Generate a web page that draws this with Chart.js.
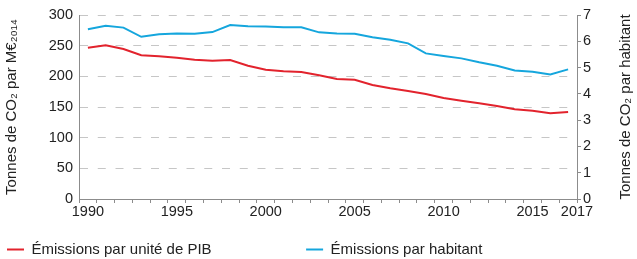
<!DOCTYPE html>
<html>
<head>
<meta charset="utf-8">
<script src="https://cdn.jsdelivr.net/npm/chart.js@4/dist/chart.umd.min.js"></script>
<style>
  html, body { margin: 0; padding: 0; background: #ffffff; }
  #wrap { width: 637px; height: 259px; }
</style>
</head>
<body>
<div id="wrap"><canvas id="c" width="637" height="259"></canvas></div>
<script>
// ---- data ----
const years = [1990, 1991, 1992, 1993, 1994, 1995, 1996, 1997, 1998, 1999,
               2000, 2001, 2002, 2003, 2004, 2005, 2006, 2007, 2008, 2009,
               2010, 2011, 2012, 2013, 2014, 2015, 2016, 2017];
const emissionsPerGDP = [246.7, 250.6, 244.6, 234.3, 232.7, 230.4, 227.1, 225.5, 226.6, 217.4,
                         210.9, 208.2, 207.1, 201.6, 195.7, 194.5, 185.9, 180.4, 176.1, 171.2,
                         164.7, 160.3, 156.0, 151.6, 146.2, 144.0, 139.7, 141.8];
const emissionsPerCapita = [6.46, 6.59, 6.52, 6.17, 6.27, 6.30, 6.29, 6.35, 6.62, 6.57,
                            6.56, 6.53, 6.53, 6.34, 6.30, 6.29, 6.15, 6.06, 5.92, 5.54,
                            5.44, 5.35, 5.20, 5.07, 4.89, 4.84, 4.74, 4.93];
const xTickLabels = ['1990', '1995', '2000', '2005', '2010', '2015', '2017'];
const leftTicks = [0, 50, 100, 150, 200, 250, 300];
const rightTicks = [0, 1, 2, 3, 4, 5, 6, 7];
const seriesNames = ['Émissions par unité de PIB', 'Émissions par habitant'];
const leftTitle = 'Tonnes de CO\u2082 par M€\u2082\u2080\u2081\u2084';
const rightTitle = 'Tonnes de CO\u2082 par habitant';

// ---- style ----
const RED = '#e2232d';
const BLUE = '#15a6dd';
const AXIS = '#8c8c8c';
const GRID = '#c6c6c6';
const TEXT = '#222222';
const FAMILY = '"Liberation Sans", Arial, Helvetica, sans-serif';
const FONT = { family: FAMILY, size: 15 };
const TICK_FONT = { family: FAMILY, size: 14.5 };

const firstYear = years[0];
const lastYear = years[years.length - 1];
// label positions: last label sits at the axis end
const labelPos = {};
xTickLabels.forEach(l => {
  const y = Number(l);
  labelPos[(y === lastYear ? y + 0.5 : y).toFixed(1)] = l;
});

const points = (vals) => years.map((y, i) => ({ x: y, y: vals[i] }));

const ctx = document.getElementById('c').getContext('2d');

// right-hand axis title, reading bottom-to-top like the left one
const rightTitlePlugin = {
  id: 'rightTitle',
  afterDraw(chart) {
    const c = chart.ctx;
    const s = chart.scales.y1;
    const area = chart.chartArea;
    c.save();
    c.translate(s.right - 11, (area.top + area.bottom) / 2);
    c.rotate(-Math.PI / 2);
    c.textAlign = 'center';
    c.textBaseline = 'middle';
    c.fillStyle = TEXT;
    c.font = FONT.size + 'px ' + FAMILY;
    c.fillText(rightTitle, 0, 0);
    c.restore();
  }
};

new Chart(ctx, {
  type: 'line',
  data: {
    datasets: [
      {
        label: seriesNames[0],
        data: points(emissionsPerGDP),
        borderColor: RED,
        backgroundColor: RED,
        borderWidth: 2,
        pointRadius: 0,
        tension: 0,
        yAxisID: 'y'
      },
      {
        label: seriesNames[1],
        data: points(emissionsPerCapita),
        borderColor: BLUE,
        backgroundColor: BLUE,
        borderWidth: 2,
        pointRadius: 0,
        tension: 0,
        yAxisID: 'y1'
      }
    ]
  },
  plugins: [rightTitlePlugin],
  options: {
    responsive: false,
    animation: false,
    devicePixelRatio: 1,
    layout: { padding: { top: 15, left: 0, right: 0, bottom: -8 } },
    plugins: {
      tooltip: { enabled: false },
      legend: {
        position: 'bottom',
        align: 'start',
        labels: {
          boxWidth: 17,
          boxHeight: 2,
          padding: 7,
          color: TEXT,
          font: FONT,
          generateLabels(chart) {
            const items = Chart.defaults.plugins.legend.labels.generateLabels(chart);
            items.forEach(it => { it.lineWidth = 0; it.strokeStyle = 'rgba(0,0,0,0)'; });
            // widen first item so that the second starts mid-way
            const c = chart.ctx;
            c.save();
            c.font = FONT.size + 'px ' + FAMILY;
            let t = items[0].text;
            while (c.measureText(t).width < 264) t += ' ';
            c.restore();
            items[0].text = t;
            return items;
          }
        }
      }
    },
    scales: {
      x: {
        type: 'linear',
        min: firstYear - 0.5,
        max: lastYear + 0.5,
        afterBuildTicks(scale) {
          const vals = [];
          for (let y = firstYear - 0.5; y <= lastYear + 0.5; y += 1) vals.push(y);
          xTickLabels.forEach(l => { const y = Number(l); if (y !== lastYear) vals.push(y); });
          vals.sort((a, b) => a - b);
          scale.ticks = vals.map(v => ({ value: v }));
        },
        afterFit(scale) { scale.height = 36; },
        ticks: {
          autoSkip: false,
          maxRotation: 0,
          minRotation: 0,
          padding: 0,
          color: TEXT,
          font: TICK_FONT,
          callback(value) { return labelPos[Number(value).toFixed(1)] || ''; }
        },
        grid: {
          drawOnChartArea: false,
          drawTicks: true,
          tickLength: 4,
          tickColor(c) { return Number.isInteger(c.tick && c.tick.value) ? 'rgba(0,0,0,0)' : AXIS; },
          tickWidth: 1
        },
        border: { display: true, color: AXIS, width: 1 }
      },
      y: {
        position: 'left',
        min: 0,
        max: 300,
        afterBuildTicks(scale) { scale.ticks = leftTicks.map(v => ({ value: v })); },
        afterFit(scale) { scale.width = 79; },
        ticks: { padding: 6, color: TEXT, font: TICK_FONT },
        grid: {
          color: GRID,
          lineWidth: 1,
          drawTicks: false
        },
        border: { display: true, color: AXIS, width: 1, dash: [8, 9.75] },
        title: {
          display: true,
          text: leftTitle,
          color: TEXT,
          font: FONT,
          padding: { top: 3, bottom: 0 }
        }
      },
      y1: {
        position: 'right',
        min: 0,
        max: 7,
        afterBuildTicks(scale) { scale.ticks = rightTicks.map(v => ({ value: v })); },
        afterFit(scale) { scale.width = 60; },
        ticks: { padding: 2, color: TEXT, font: TICK_FONT },
        grid: {
          drawOnChartArea: false,
          drawTicks: true,
          tickLength: 4,
          tickColor: AXIS
        },
        border: { display: true, color: AXIS, width: 1 },
        title: { display: false }
      }
    }
  }
});
</script>
</body>
</html>
